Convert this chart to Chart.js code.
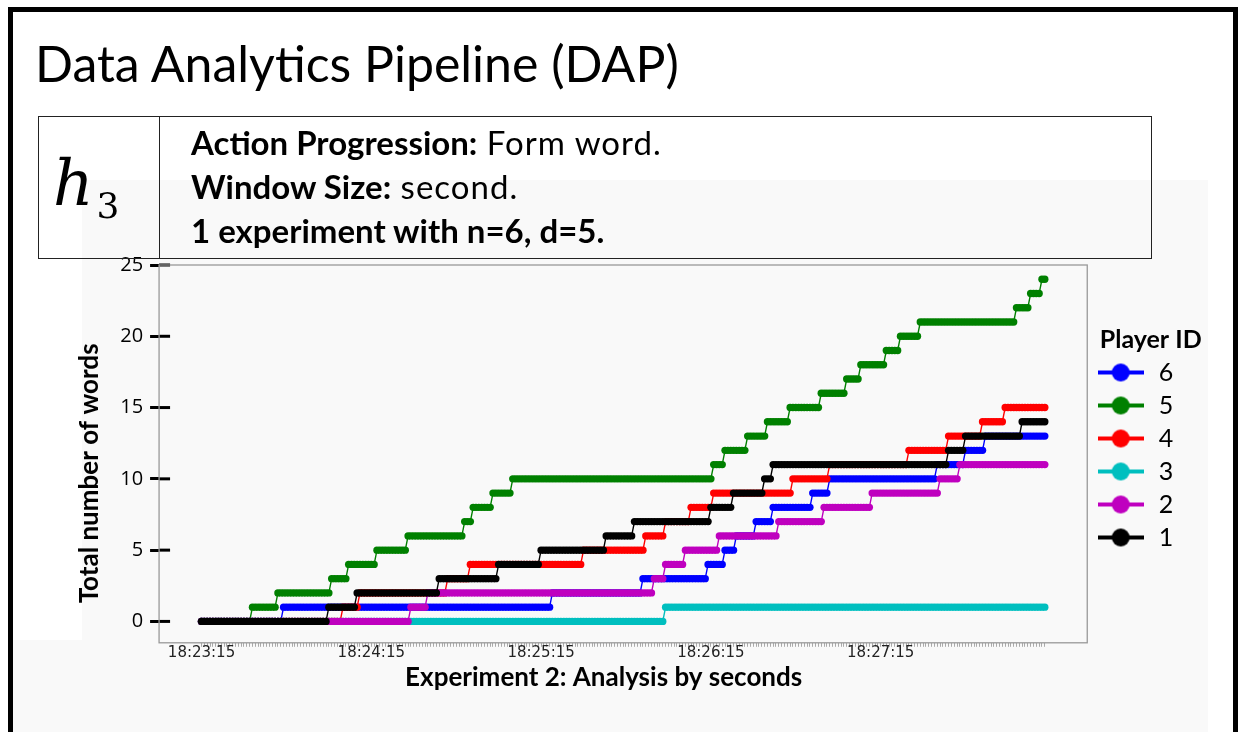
<!DOCTYPE html>
<html>
<head>
<meta charset="utf-8">
<script src="https://cdn.jsdelivr.net/npm/chart.js@4.4.0/dist/chart.umd.min.js"></script>
<style>
body { margin:0; width:1241px; height:732px; overflow:hidden; background:#fff; position:relative; font-family:Lato, sans-serif; }
#frame { position:absolute; left:8px; top:7px; width:1230px; height:800px; border:5px solid #000; box-sizing:border-box; }
#figBg { position:absolute; left:82px; top:180px; width:1126px; height:560px; background:#f9f9f9; }
#figBg2 { position:absolute; left:13px; top:640px; width:80px; height:100px; background:#f9f9f9; }
#title { position:absolute; left:35px; top:33px; font-size:50px; color:#000; white-space:nowrap; }
#box { position:absolute; left:38px; top:116px; width:1114px; height:143px; border:1.5px solid #222; box-sizing:border-box; z-index:2; }
#hcell { position:absolute; left:0; top:0; width:121px; height:100%; border-right:1.5px solid #222; box-sizing:border-box; }
#h3 { position:absolute; left:14px; top:36px; font-family:"DejaVu Serif", serif; font-style:italic; font-size:63px; line-height:62px; white-space:nowrap; }
#h3 sub { font-style:normal; font-size:36px; vertical-align:-13px; margin-left:3px; }
.line { position:absolute; left:152px; font-size:33px; line-height:32px; white-space:nowrap; }
.line span { letter-spacing:1px; }
#chartWrap { position:absolute; left:62px; top:180px; width:1150px; height:552px; z-index:1; }
</style>
</head>
<body>
<div id="figBg"></div>
<div id="figBg2"></div>
<div id="frame"></div>
<div id="title">Data Analytics Pipeline (DAP)</div>
<div id="box">
  <div id="hcell"><div id="h3">h<sub>3</sub></div></div>
  <div class="line" style="top:9px"><b>Action Progression:</b><span> Form word.</span></div>
  <div class="line" style="top:53px"><b>Window Size:</b><span> second.</span></div>
  <div class="line" style="top:97px"><b>1 experiment with n=6, d=5.</b></div>
</div>
<div id="chartWrap"><canvas id="chart" width="1150" height="552"></canvas></div>
<script>
// seconds after 18:23:15 at which each player formed a new word
var player1Steps = [45, 55, 84, 105, 120, 143, 153, 180, 188, 199, 202, 264, 270, 290];
var player2Steps = [74, 80, 160, 164, 171, 183, 204, 220, 237, 261, 268];
var player3Steps = [164];
var player4Steps = [50, 56, 87, 95, 135, 157, 164, 173, 181, 209, 222, 250, 264, 276, 284];
var player5Steps = [18, 27, 46, 52, 62, 73, 93, 96, 103, 110, 181, 185, 193, 200, 208, 219, 228, 233, 242, 247, 254, 288, 293, 297];
var player6Steps = [29, 124, 156, 179, 185, 189, 196, 202, 216, 222, 260, 270, 277];

var playerIds = ['1', '2', '3', '4', '5', '6'];
var playerColors = ['#000000', '#bf00bf', '#00bfbf', '#ff0000', '#008000', '#0000ff'];
var lastSecond = 298;
var tickLabels = ['18:23:15', '18:24:15', '18:25:15', '18:26:15', '18:27:15'];
var yTicks = [0, 5, 10, 15, 20, 25];

var allSteps = [player1Steps, player2Steps, player3Steps, player4Steps, player5Steps, player6Steps];

//total words of a player at every second
function WordsPerSecond(steps) {
    var pts = [];
    for (var t = 0; t <= lastSecond; t++) {
        var n = 0;
        for (var k = 0; k < steps.length; k++) {
            if (steps[k] <= t) n++;
        }
        pts.push({ x: t, y: n });
    }
    return pts;
}

//legend marker: line with a dot
function LegendMarker(color) {
    var c = document.createElement('canvas');
    c.width = 46;
    c.height = 20;
    var g = c.getContext('2d');
    g.strokeStyle = color;
    g.lineWidth = 4;
    g.beginPath();
    g.moveTo(0, 10);
    g.lineTo(46, 10);
    g.stroke();
    g.fillStyle = color;
    g.beginPath();
    g.arc(23, 10, 9, 0, Math.PI * 2);
    g.fill();
    return c;
}

var datasets = [];
for (var i = 0; i < playerIds.length; i++) {
    datasets.push({
        label: playerIds[i],
        data: WordsPerSecond(allSteps[i]),
        borderColor: playerColors[i],
        backgroundColor: playerColors[i],
        pointBackgroundColor: playerColors[i],
        borderWidth: 1.4,
        pointRadius: 3.7,
        pointBorderWidth: 0,
        pointHoverRadius: 3.7,
        tension: 0,
        fill: false
    });
}

var plotFrame = {
    id: 'plotFrame',
    beforeDraw: function(chart) {
        var ctx = chart.ctx;
        var a = chart.chartArea;
        ctx.save();
        ctx.fillStyle = '#f9f9f9';
        ctx.fillRect(a.left, a.top, a.right - a.left, a.bottom - a.top);
        ctx.restore();
    },
    beforeDatasetsDraw: function(chart) {
        var ctx = chart.ctx;
        var a = chart.chartArea;
        var y = chart.scales.y;
        ctx.save();
        //inner part of the y tick marks
        ctx.strokeStyle = '#000';
        ctx.lineWidth = 3;
        yTicks.forEach(function(v) {
            var py = y.getPixelForValue(v);
            ctx.beginPath();
            ctx.moveTo(a.left, py);
            ctx.lineTo(a.left + 11, py);
            ctx.stroke();
        });
        ctx.restore();
    },
    afterDraw: function(chart) {
        var ctx = chart.ctx;
        var a = chart.chartArea;
        ctx.save();
        ctx.strokeStyle = '#999';
        ctx.lineWidth = 1.3;
        ctx.strokeRect(a.left, a.top, a.right - a.left, a.bottom - a.top);
        ctx.restore();
    }
};

var ctx = document.getElementById('chart').getContext('2d');
var wordsChart = new Chart(ctx, {
    type: 'line',
    data: { datasets: datasets },
    plugins: [plotFrame],
    options: {
        responsive: false,
        animation: false,
        layout: { padding: { left: 12, right: 10, top: 85, bottom: 39 } },
        plugins: {
            tooltip: { enabled: false },
            legend: {
                position: 'right',
                reverse: true,
                align: 'start',
                title: {
                    display: true,
                    text: '\u2002Player ID',
                    position: 'start',
                    color: '#000',
                    font: { family: 'Lato', weight: 'bold', size: 25 },
                    padding: { top: 62, bottom: -5 }
                },
                labels: {
                    color: '#000',
                    font: { family: 'Lato', size: 25 },
                    usePointStyle: true,
                    pointStyleWidth: 51,
                    padding: 8,
                    generateLabels: function(chart) {
                        return chart.data.datasets.map(function(ds, i) {
                            return {
                                //trailing space keeps the legend wide enough for its title
                                text: ds.label + '\u2003',
                                pointStyle: LegendMarker(ds.borderColor),
                                fillStyle: ds.borderColor,
                                strokeStyle: ds.borderColor,
                                lineWidth: 0,
                                hidden: false,
                                datasetIndex: i
                            };
                        });
                    }
                }
            }
        },
        scales: {
            x: {
                type: 'linear',
                min: -15,
                max: 313,
                afterBuildTicks: function(scale) {
                    var t = [];
                    for (var s = 0; s <= lastSecond; s++) t.push({ value: s });
                    scale.ticks = t;
                },
                ticks: {
                    autoSkip: false,
                    maxRotation: 0,
                    padding: -3,
                    color: '#222',
                    font: { family: 'DejaVu Sans', size: 15 },
                    callback: function(v) {
                        return v % 60 === 0 ? tickLabels[v / 60] : '';
                    }
                },
                grid: { drawOnChartArea: false, tickLength: 4, tickColor: '#888', tickWidth: 0.7 },
                border: { display: false },
                title: {
                    display: true,
                    text: 'Experiment 2: Analysis by seconds\u2003\u2003',
                    color: '#000',
                    font: { family: 'Lato', weight: 'bold', size: 26 },
                    padding: { top: 3, bottom: 0 }
                }
            },
            y: {
                min: -1.5,
                max: 25,
                afterBuildTicks: function(scale) {
                    scale.ticks = yTicks.map(function(v) { return { value: v }; });
                },
                ticks: {
                    padding: 7,
                    color: '#000',
                    font: { family: 'Open Sans', size: 20 }
                },
                grid: { drawOnChartArea: false, tickLength: 9, tickColor: '#000', tickWidth: 3 },
                border: { display: false },
                title: {
                    display: true,
                    text: 'Total number of words\u2003\u2003',
                    color: '#000',
                    font: { family: 'Lato', weight: 'bold', size: 26 },
                    padding: { top: 0, bottom: 8 }
                }
            }
        }
    }
});
</script>
</body>
</html>
